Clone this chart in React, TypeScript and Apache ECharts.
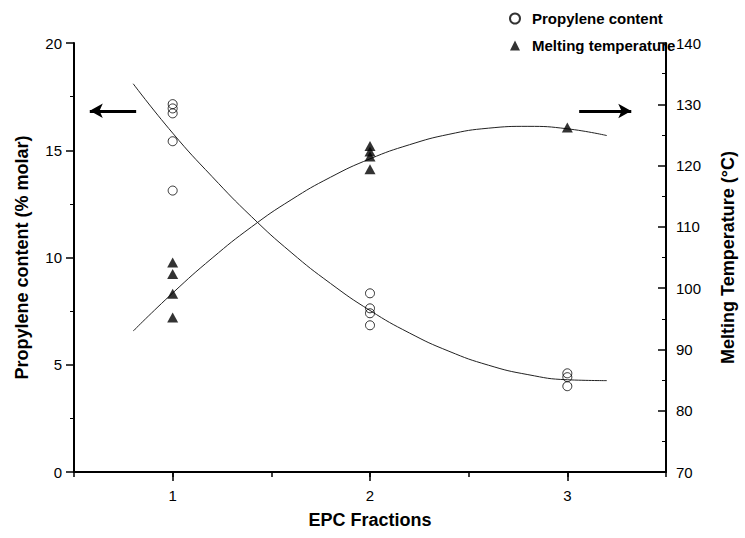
import React, { useEffect, useRef } from "react";
import * as echarts from "echarts";

// Measured points (EPC fraction index, value)
const propX = [1, 1, 1, 1, 1, 2, 2, 2, 2, 3, 3, 3];
const propY = [17.15, 16.95, 16.72, 15.42, 13.12, 8.33, 7.63, 7.4, 6.84, 4.6, 4.42, 4.0];

const tempX = [1, 1, 1, 1, 2, 2, 2, 2, 3];
const tempY = [104.2, 102.3, 99.1, 95.2, 123.2, 122.3, 121.5, 119.4, 126.2];

// Fitted curves
const fitX = [0.8, 1.0, 1.2, 1.4, 1.6, 1.8, 2.0, 2.2, 2.4, 2.6, 2.8, 3.0, 3.2];
const propFit = [18.1, 15.8, 13.77, 11.9, 10.24, 8.79, 7.53, 6.48, 5.63, 4.98, 4.54, 4.3, 4.26];
const tempFit = [93.0, 99.2, 104.9, 110.0, 114.4, 118.1, 121.1, 123.4, 125.1, 126.1, 126.4, 126.0, 124.9];

const xTicks = [1, 2, 3];

// Arrow annotations pointing to the axes
const leftArrow = { from: [0.815, 16.84], to: [0.58, 16.84] };
const rightArrow = { from: [3.06, 128.9], to: [3.324, 128.9] };

const FONT = "'Liberation Sans', Arial, Helvetica, sans-serif";

export default function App() {
  const ref = useRef<HTMLDivElement>(null);

  useEffect(() => {
    if (!ref.current) return;
    const chart = echarts.init(ref.current, undefined, { renderer: "svg" });

    const zip = (xs: number[], ys: number[]) => xs.map((x, i) => [x, ys[i]]);

    const axisLabelStyle = { color: "#000", fontSize: 15, fontFamily: FONT };
    const nameStyle = { color: "#000", fontSize: 18, fontWeight: "bold" as const, fontFamily: FONT };
    const lineStyleAxis = { color: "#000", width: 2 };

    chart.setOption({
      animation: false,
      backgroundColor: "#fff",
      textStyle: { fontFamily: FONT },
      grid: { left: 74, right: 72, top: 43, bottom: 66 },
      legend: {
        orient: "vertical",
        left: 504,
        top: 6,
        itemGap: 12,
        itemWidth: 10,
        itemHeight: 10,
        textStyle: { color: "#000", fontSize: 15, fontWeight: "bold", fontFamily: FONT, padding: [0, 0, 0, 7] },
        data: ["Propylene content", "Melting temperature"],
      },
      xAxis: [
        {
          type: "value",
          min: 0.5,
          max: 3.5,
          interval: 0.5,
          position: "bottom",
          axisLine: { show: true, lineStyle: lineStyleAxis },
          axisTick: { show: true, length: 5, lineStyle: { color: "#000", width: 1.5 } },
          axisLabel: { show: false },
          splitLine: { show: false },
        },
        {
          type: "value",
          min: 0.5,
          max: 3.5,
          position: "bottom",
          axisLine: { show: false },
          axisTick: { show: true, length: 9, customValues: xTicks, lineStyle: { color: "#000", width: 1.5 } },
          axisLabel: { ...axisLabelStyle, margin: 16, customValues: xTicks },
          splitLine: { show: false },
          name: "EPC Fractions",
          nameLocation: "middle",
          nameGap: 39,
          nameTextStyle: nameStyle,
        },
      ],
      yAxis: [
        {
          type: "value",
          min: 0,
          max: 20,
          interval: 5,
          position: "left",
          axisLine: { show: true, lineStyle: lineStyleAxis },
          axisTick: { show: true, length: 8, lineStyle: { color: "#000", width: 1.5 } },
          minorTick: { show: true, splitNumber: 2, length: 4, lineStyle: { color: "#000", width: 1 } },
          axisLabel: { ...axisLabelStyle, margin: 12 },
          splitLine: { show: false },
          name: "Propylene content (% molar)",
          nameLocation: "middle",
          nameRotate: 90,
          nameGap: 43,
          nameTextStyle: nameStyle,
        },
        {
          type: "value",
          min: 70,
          max: 140,
          interval: 10,
          position: "right",
          axisLine: { show: true, lineStyle: lineStyleAxis },
          axisTick: { show: true, inside: true, length: 8, lineStyle: { color: "#000", width: 1.5 } },
          minorTick: { show: true, splitNumber: 2, length: 4, lineStyle: { color: "#000", width: 1 } },
          axisLabel: { ...axisLabelStyle, margin: 10 },
          splitLine: { show: false },
          name: "Melting Temperature (°C)",
          nameLocation: "middle",
          nameRotate: 90,
          nameGap: 53,
          nameTextStyle: nameStyle,
        },
      ],
      series: [
        {
          name: "Propylene content",
          type: "scatter",
          xAxisIndex: 0,
          yAxisIndex: 0,
          symbol: "circle",
          symbolSize: 9,
          itemStyle: { color: "rgba(0,0,0,0)", borderColor: "#000", borderWidth: 1 },
          data: zip(propX, propY),
          z: 3,
        },
        {
          name: "Melting temperature",
          type: "scatter",
          xAxisIndex: 0,
          yAxisIndex: 1,
          symbol: "triangle",
          symbolSize: [11, 10],
          itemStyle: { color: "#000" },
          data: zip(tempX, tempY),
          z: 3,
        },
        {
          name: "propFit",
          type: "line",
          xAxisIndex: 0,
          yAxisIndex: 0,
          smooth: true,
          showSymbol: false,
          symbol: "none",
          lineStyle: { color: "#222", width: 1 },
          data: zip(fitX, propFit),
          silent: true,
          markLine: {
            silent: true,
            symbol: ["none", "arrow"],
            symbolSize: [11, 13],
            label: { show: false },
            lineStyle: { color: "#000", width: 3, type: "solid" },
            data: [[{ coord: leftArrow.from }, { coord: leftArrow.to }]],
          },
        },
        {
          name: "tempFit",
          type: "line",
          xAxisIndex: 0,
          yAxisIndex: 1,
          smooth: true,
          showSymbol: false,
          symbol: "none",
          lineStyle: { color: "#222", width: 1 },
          data: zip(fitX, tempFit),
          silent: true,
          markLine: {
            silent: true,
            symbol: ["none", "arrow"],
            symbolSize: [11, 13],
            label: { show: false },
            lineStyle: { color: "#000", width: 3, type: "solid" },
            data: [[{ coord: rightArrow.from }, { coord: rightArrow.to }]],
          },
        },
      ],
    });

    return () => chart.dispose();
  }, []);

  return (
    <div
      ref={ref}
      style={{ position: "absolute", left: 0, top: 0, width: 745, height: 538, background: "#fff" }}
    />
  );
}
